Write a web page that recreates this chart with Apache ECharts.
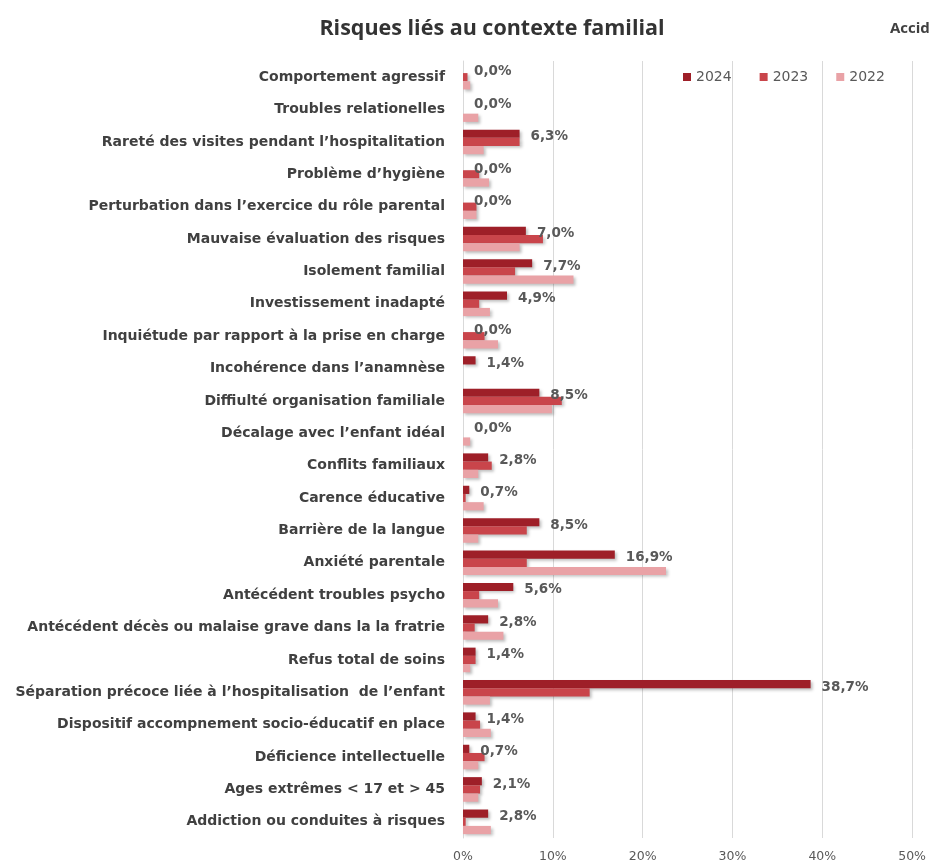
<!DOCTYPE html>
<html>
<head>
<meta charset="utf-8">
<script src="https://cdn.jsdelivr.net/npm/echarts@6/dist/echarts.min.js"></script>
<style>
html,body{margin:0;padding:0;background:#fff;}
#chart{width:929px;height:867px;}
</style>
</head>
<body>
<div id="chart"></div>
<script>
const categories = [
  "Comportement agressif",
  "Troubles relationelles",
  "Rareté des visites pendant l’hospitalitation",
  "Problème d’hygiène",
  "Perturbation dans l’exercice du rôle parental",
  "Mauvaise évaluation des risques",
  "Isolement familial",
  "Investissement inadapté",
  "Inquiétude par rapport à la prise en charge",
  "Incohérence dans l’anamnèse",
  "Diffiulté organisation familiale",
  "Décalage avec l’enfant idéal",
  "Conflits familiaux",
  "Carence éducative",
  "Barrière de la langue",
  "Anxiété parentale",
  "Antécédent troubles psycho",
  "Antécédent décès ou malaise grave dans la la fratrie",
  "Refus total de soins",
  "Séparation précoce liée à l’hospitalisation  de l’enfant",
  "Dispositif accompnement socio-éducatif en place",
  "Déficience intellectuelle",
  "Ages extrêmes < 17 et > 45",
  "Addiction ou conduites à risques"
];
const values2024 = [0.0, 0.0, 6.3, 0.0, 0.0, 7.0, 7.7, 4.9, 0.0, 1.4, 8.5, 0.0, 2.8, 0.7, 8.5, 16.9, 5.6, 2.8, 1.4, 38.7, 1.4, 0.7, 2.1, 2.8];
const values2023 = [0.5, 0.0, 6.3, 1.8, 1.5, 8.9, 5.8, 1.8, 2.4, 0.0, 11.0, 0.0, 3.2, 0.3, 7.1, 7.1, 1.8, 1.3, 1.4, 14.1, 1.9, 2.4, 1.9, 0.3];
const values2022 = [0.8, 1.7, 2.3, 2.9, 1.5, 6.3, 12.3, 3.0, 3.9, 0.0, 9.9, 0.8, 1.7, 2.3, 1.7, 22.6, 3.9, 4.5, 0.8, 3.0, 3.1, 1.7, 1.7, 3.1];
const seriesNames = ["2024", "2023", "2022"];
const xTicks = [0, 10, 20, 30, 40, 50];

const colors = ["#9e1f28", "#c9454b", "#e9a2a6"];
const FONT = "DejaVu Sans";
const TITLE_FONT = "Open Sans";

const chart = echarts.init(document.getElementById('chart'), null, {renderer: 'canvas'});

const allVals = [values2024, values2023, values2022];
const series = seriesNames.map((name, i) => ({
  name: name,
  type: 'bar',
  data: allVals[i],
  barGap: '0%',
  barCategoryGap: '24%',
  itemStyle: {
    color: colors[i],
    shadowColor: 'rgba(0,0,0,0.25)',
    shadowBlur: 3,
    shadowOffsetX: 2,
    shadowOffsetY: 2
  },
  label: i === 0 ? {
    show: true,
    position: 'right',
    distance: 11,
    offset: [0, 3],
    formatter: p => p.value.toFixed(1).replace('.', ',') + '%',
    fontFamily: FONT,
    fontWeight: 'bold',
    fontSize: 13.5,
    color: '#595959'
  } : {show: false}
}));

chart.setOption({
  animation: false,
  backgroundColor: '#ffffff',
  title: [{
    text: 'Risques liés au contexte familial',
    left: 487,
    top: 13,
    textAlign: 'center',
    textStyle: {fontFamily: TITLE_FONT, fontWeight: 'bold', fontSize: 21.5, color: '#333333'}
  }, {
    text: 'Accid',
    left: 885,
    top: 16,
    textStyle: {fontFamily: TITLE_FONT, fontWeight: 'bold', fontSize: 15, color: '#404040'}
  }],
  legend: {
    data: seriesNames,
    top: 65,
    left: 678,
    itemWidth: 8,
    itemHeight: 8,
    itemGap: 28,
    icon: 'rect',
    textStyle: {fontFamily: FONT, fontSize: 14, color: '#595959'}
  },
  grid: {left: 463, right: 16, top: 61, bottom: 29, containLabel: false},
  xAxis: {
    type: 'value',
    min: xTicks[0],
    max: xTicks[xTicks.length - 1],
    interval: 10,
    axisLabel: {
      formatter: v => v + '%',
      fontFamily: FONT,
      fontSize: 12.5,
      color: '#595959',
      margin: 12
    },
    axisLine: {show: false},
    axisTick: {show: false},
    splitLine: {show: true, lineStyle: {color: '#d9d9d9', width: 1}}
  },
  yAxis: {
    type: 'category',
    data: categories,
    inverse: true,
    axisLabel: {
      fontFamily: FONT,
      fontWeight: 'bold',
      fontSize: 14,
      color: '#404040',
      margin: 18
    },
    axisLine: {show: true, lineStyle: {color: '#d9d9d9'}},
    axisTick: {show: false}
  },
  series: series
});
</script>
</body>
</html>
